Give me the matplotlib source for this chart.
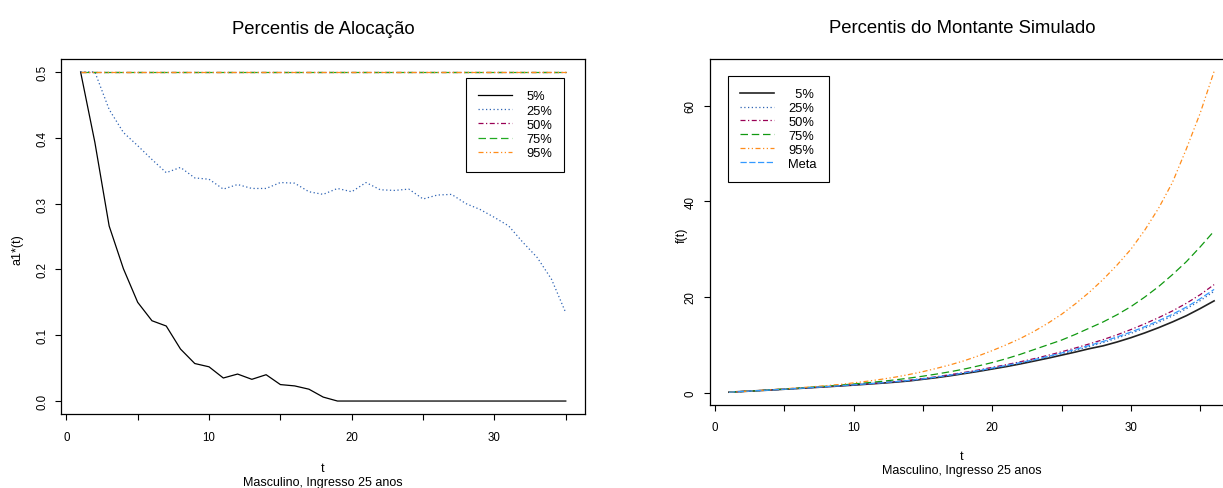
import numpy as np
import matplotlib.pyplot as plt

plt.rcParams['font.family'] = ['Liberation Sans', 'DejaVu Sans']

# --- Left panel data: allocation percentiles, t = 1..35 ---
t_aloc = list(range(1, 36))
aloc_p05 = [0.500, 0.393, 0.266, 0.201, 0.150, 0.122, 0.114, 0.079, 0.057, 0.052,
            0.035, 0.041, 0.033, 0.040, 0.025, 0.023, 0.018, 0.006, 0.000, 0.000,
            0.000, 0.000, 0.000, 0.000, 0.000, 0.000, 0.000, 0.000, 0.000, 0.000,
            0.000, 0.000, 0.000, 0.000, 0.000]
aloc_p25 = [0.500, 0.500, 0.443, 0.408, 0.388, 0.367, 0.347, 0.355, 0.339, 0.337,
            0.322, 0.329, 0.323, 0.323, 0.332, 0.331, 0.318, 0.314, 0.323, 0.318,
            0.332, 0.321, 0.320, 0.322, 0.307, 0.313, 0.314, 0.300, 0.291, 0.279,
            0.266, 0.241, 0.218, 0.185, 0.134]
aloc_p50 = [0.5] * 35
aloc_p75 = [0.5] * 35
aloc_p95 = [0.5] * 35

# --- Right panel data: simulated amount percentiles, t = 1..36 ---
t_mont = list(range(1, 37))
mont_p05 = [0.10, 0.25, 0.40, 0.55, 0.72, 0.88, 1.05, 1.22, 1.40, 1.58,
            1.78, 1.98, 2.20, 2.45, 2.80, 3.15, 3.55, 4.00, 4.45, 4.95,
            5.45, 6.00, 6.60, 7.20, 7.85, 8.50, 9.20, 9.80, 10.60, 11.50,
            12.50, 13.60, 14.80, 16.10, 17.60, 19.20]
mont_p25 = [0.10, 0.25, 0.40, 0.55, 0.72, 0.88, 1.06, 1.24, 1.43, 1.62,
            1.83, 2.04, 2.27, 2.53, 2.86, 3.23, 3.64, 4.08, 4.55, 5.05,
            5.58, 6.15, 6.76, 7.42, 8.12, 8.86, 9.65, 10.48, 11.40, 12.40,
            13.50, 14.72, 16.05, 17.55, 19.25, 21.20]
mont_p50 = [0.10, 0.25, 0.40, 0.56, 0.73, 0.90, 1.08, 1.26, 1.45, 1.65,
            1.86, 2.08, 2.32, 2.60, 2.95, 3.35, 3.78, 4.25, 4.75, 5.30,
            5.85, 6.45, 7.10, 7.80, 8.55, 9.35, 10.20, 11.10, 12.10, 13.20,
            14.40, 15.70, 17.10, 18.70, 20.50, 22.60]
mont_p75 = [0.10, 0.25, 0.41, 0.58, 0.76, 0.95, 1.15, 1.36, 1.58, 1.82,
            2.08, 2.36, 2.68, 3.05, 3.45, 3.90, 4.40, 4.95, 5.60, 6.30,
            7.10, 8.00, 9.00, 10.00, 11.00, 12.20, 13.50, 14.80, 16.30, 18.00,
            20.00, 22.20, 24.70, 27.40, 30.50, 33.80]
mont_p95 = [0.10, 0.25, 0.42, 0.60, 0.80, 1.00, 1.22, 1.46, 1.72, 2.05,
            2.40, 2.80, 3.25, 3.80, 4.40, 5.10, 5.85, 6.70, 7.70, 8.80,
            10.00, 11.30, 12.80, 14.50, 16.40, 18.60, 21.00, 23.70, 26.70, 30.00,
            34.00, 38.60, 44.00, 51.00, 58.50, 67.20]
mont_meta = [0.10, 0.25, 0.40, 0.56, 0.72, 0.89, 1.07, 1.25, 1.44, 1.64,
             1.85, 2.06, 2.30, 2.56, 2.90, 3.28, 3.70, 4.15, 4.63, 5.15,
             5.70, 6.28, 6.90, 7.58, 8.30, 9.06, 9.87, 10.72, 11.65, 12.68,
             13.80, 15.05, 16.40, 17.90, 19.65, 21.60]

W, H = 1223, 489
fig = plt.figure(figsize=(W / 100, H / 100), dpi=100)


def px(x, y):
    # pixel position (from top-left) -> figure fraction
    return x / W, 1 - y / H


def axes_box(x0, y0, x1, y1):
    return [x0 / W, 1 - y1 / H, (x1 - x0) / W, (y1 - y0) / H]


def style_axis(ax):
    for s in ax.spines.values():
        s.set_linewidth(0.9)
        s.set_color('black')
    ax.tick_params(direction='out', length=4.3, width=0.8, labelsize=8.3)


leg_kw = dict(loc='upper left', bbox_transform=fig.transFigure, fontsize=9.3,
              frameon=True, fancybox=False, edgecolor='black', framealpha=1,
              borderaxespad=0, borderpad=0.95, handlelength=2.6, handletextpad=1.1)

# --- Left: Percentis de Alocação ---
ax1 = fig.add_axes(axes_box(61.2, 59.8, 585.2, 415.2))
ax1.plot(t_aloc, aloc_p05, color='black', lw=0.9, label='5%')
ax1.plot(t_aloc, aloc_p25, color='#2f64b4', lw=0.9, ls=(0, (1, 2)), label='25%')
ax1.plot(t_aloc, aloc_p50, color='#990055', lw=0.9, ls=(0, (4, 2, 1, 2)), label='50%')
ax1.plot(t_aloc, aloc_p75, color='#22aa22', lw=0.9, ls=(0, (6, 3)), label='75%')
ax1.plot(t_aloc, aloc_p95, color='#ff8c1a', lw=0.9, ls=(0, (4, 2, 1, 2, 1, 2)), label='95%')
ax1.set_xlim(-0.36, 36.36)
ax1.set_ylim(-0.02, 0.52)
ax1.set_xticks(np.arange(0, 36, 5))
ax1.set_xticklabels(['0', '', '10', '', '20', '', '30', ''])
ax1.set_yticks([0.0, 0.1, 0.2, 0.3, 0.4, 0.5])
ax1.set_yticklabels(['0.0', '0.1', '0.2', '0.3', '0.4', '0.5'], rotation=90, va='center')
style_axis(ax1)
ax1.tick_params(axis='x', pad=8)
ax1.tick_params(axis='y', pad=5)
leg1 = ax1.legend(bbox_to_anchor=px(466, 79), labelspacing=0.17, **leg_kw)
leg1.get_frame().set_linewidth(0.8)

fig.text(*px(323, 34), 'Percentis de Alocação', ha='center', va='baseline', fontsize=13.3)
fig.text(*px(323, 472), 't', ha='center', va='baseline', fontsize=9)
fig.text(*px(323, 486), 'Masculino, Ingresso 25 anos', ha='center', va='baseline', fontsize=9)
fig.text(*px(17, 250), 'a1*(t)', ha='center', va='center', rotation=90, fontsize=9)

# --- Right: Percentis do Montante Simulado (plot box runs past the image edge) ---
ax2 = fig.add_axes(axes_box(709.5, 59.5, 1233.5, 406))
ax2.plot(t_mont, mont_p05, color='#222222', lw=1.2, label='  5%')
ax2.plot(t_mont, mont_p25, color='#2f64b4', lw=0.9, ls=(0, (1, 2)), label='25%')
ax2.plot(t_mont, mont_p50, color='#990055', lw=0.9, ls=(0, (4, 2, 1, 2)), label='50%')
ax2.plot(t_mont, mont_p75, color='#119911', lw=0.9, ls=(0, (6, 3)), label='75%')
ax2.plot(t_mont, mont_p95, color='#ff8c1a', lw=0.9, ls=(0, (4, 2, 1, 2, 1, 2)), label='95%')
ax2.plot(t_mont, mont_meta, color='#3399ff', lw=0.9, ls=(0, (5, 2)), label='Meta')
ax2.set_xlim(-0.4, 37.4)
ax2.set_ylim(-2.58, 69.9)
ax2.set_xticks(np.arange(0, 36, 5))
ax2.set_xticklabels(['0', '', '10', '', '20', '', '30', ''])
ax2.set_yticks([0, 20, 40, 60])
ax2.set_yticklabels(['0', '20', '40', '60'], rotation=90, va='center')
style_axis(ax2)
ax2.tick_params(axis='x', pad=7)
ax2.tick_params(axis='y', pad=5)
leg2 = ax2.legend(bbox_to_anchor=px(728, 77), labelspacing=0.14, **leg_kw)
leg2.get_frame().set_linewidth(0.8)

fig.text(*px(962, 33), 'Percentis do Montante Simulado', ha='center', va='baseline', fontsize=13.3)
fig.text(*px(962, 460), 't', ha='center', va='baseline', fontsize=9)
fig.text(*px(962, 474), 'Masculino, Ingresso 25 anos', ha='center', va='baseline', fontsize=9)
fig.text(*px(682, 235), 'f(t)', ha='center', va='center', rotation=90, fontsize=9)

plt.savefig('out.png', dpi=100)
